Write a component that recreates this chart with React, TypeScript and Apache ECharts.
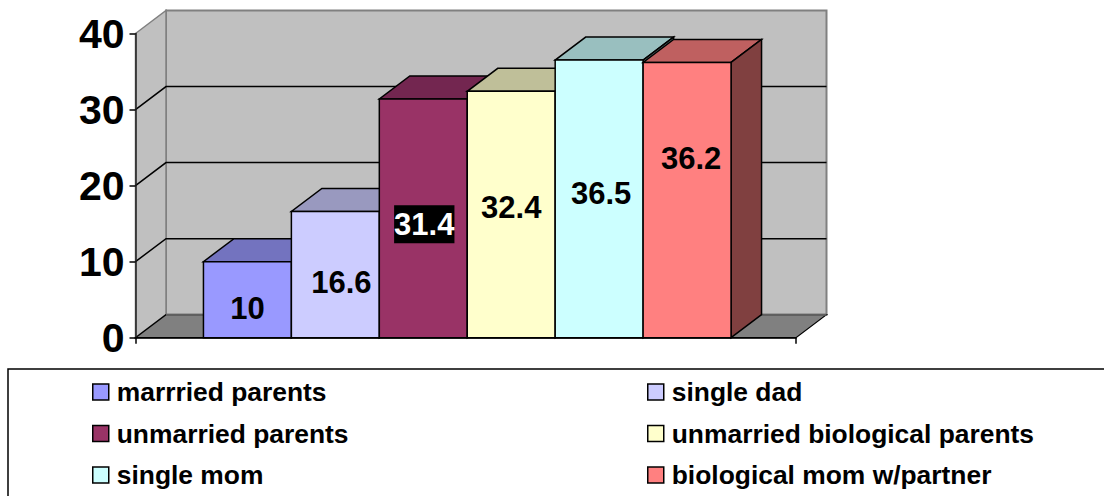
import React, { useEffect, useRef } from "react";
import * as echarts from "echarts";

const categories = [""];
const seriesNames = [
  "marrried parents",
  "single dad",
  "unmarried parents",
  "unmarried biological parents",
  "single mom",
  "biological mom w/partner",
];
const seriesValues = [10, 16.6, 31.4, 32.4, 36.5, 36.2];
const valueTicks = [0, 10, 20, 30, 40];

const barColors = ["#9999FF", "#CCCCFF", "#993366", "#FFFFCC", "#CCFFFF", "#FF8080"];
const topColors = ["#7373BF", "#9999BF", "#732650", "#BFBF99", "#99BFBF", "#BF6060"];
const sideColors = ["#4D4D80", "#666680", "#4D1A33", "#808066", "#668080", "#804040"];
const labelShiftY = [9, 7.5, 6, -7, -5.5, -42];
const labelShiftX = [1, 7, 2, 1, 3, 5];

const DX = 30.5;
const DY = -23;
const GAP_FRAC = 68 / 661;
const BAR_FRAC = 88 / 661;
const FONT = '"Liberation Sans", Arial, sans-serif';

function poly(points: number[][], fill: string, stroke: string, lineWidth: number) {
  return { type: "polygon", shape: { points }, style: { fill, stroke, lineWidth } };
}

function renderWalls(_p: any, api: any) {
  const base = api.coord([0, 0]);
  const band = api.size([1, 0])[0];
  const left = base[0] - band / 2;
  const right = left + band;
  const y0 = base[1];
  const yTop = api.coord([0, valueTicks[valueTicks.length - 1]])[1];
  const grey = "#808080";
  const children: any[] = [
    poly([[left + DX, y0 + DY], [right + DX, y0 + DY], [right + DX, yTop + DY], [left + DX, yTop + DY]], "#C0C0C0", grey, 2),
    poly([[left, y0], [left + DX, y0 + DY], [left + DX, yTop + DY], [left, yTop]], "#C0C0C0", grey, 1.5),
    poly([[left, y0], [right, y0], [right + DX, y0 + DY], [left + DX, y0 + DY]], grey, "#000", 1.2),
  ];
  valueTicks.slice(1, -1).forEach((t) => {
    const y = api.coord([0, t])[1];
    children.push({
      type: "polyline",
      shape: { points: [[left, y], [left + DX, y + DY], [right + DX, y + DY]] },
      style: { fill: "none", stroke: "#000", lineWidth: 1.5 },
    });
  });
  children.push({
    type: "line",
    shape: { x1: left + DX, y1: y0 + DY, x2: right + DX, y2: y0 + DY },
    style: { stroke: "#606060", lineWidth: 2 },
  });
  return { type: "group", children };
}

function renderBar(i: number) {
  return (_p: any, api: any) => {
    const value = api.value(1);
    const base = api.coord([0, 0]);
    const top = api.coord([0, value]);
    const band = api.size([1, 0])[0];
    const x0 = base[0] - band / 2 + band * (GAP_FRAC + BAR_FRAC * i);
    const x1 = x0 + band * BAR_FRAC;
    const y0 = base[1];
    const y1 = top[1];
    const isDark = i === 2;
    return {
      type: "group",
      children: [
        poly([[x0, y1], [x1, y1], [x1 + DX, y1 + DY], [x0 + DX, y1 + DY]], topColors[i], "#000", 1.5),
        poly([[x1, y0], [x1 + DX, y0 + DY], [x1 + DX, y1 + DY], [x1, y1]], sideColors[i], "#000", 1.5),
        poly([[x0, y0], [x1, y0], [x1, y1], [x0, y1]], barColors[i], "#000", 1.5),
        {
          type: "text",
          x: (x0 + x1) / 2 - 1 + labelShiftX[i],
          y: (y0 + y1) / 2 + labelShiftY[i],
          style: {
            text: String(value),
            fill: isDark ? "#fff" : "#000",
            font: `bold 31px ${FONT}`,
            align: "center",
            verticalAlign: "middle",
            backgroundColor: isDark ? "#000" : "transparent",
            padding: isDark ? [5, 0, 2, 0] : 0,
          },
        },
      ],
    };
  };
}

export default function App() {
  const ref = useRef<HTMLDivElement>(null);
  useEffect(() => {
    const chart = echarts.init(ref.current!, undefined, { renderer: "svg" });
    const legendBase = {
      orient: "vertical",
      icon: "rect",
      itemWidth: 16,
      itemHeight: 16,
      itemGap: 15.5,
      height: 130,
      selectedMode: false,
      itemStyle: { borderColor: "#000", borderWidth: 1.5 },
      textStyle: { fontFamily: FONT, fontWeight: "bold", fontSize: 26.4, color: "#000", padding: [0, 0, 0, 3] },
    };
    chart.setOption({
      animation: false,
      backgroundColor: "#fff",
      grid: { left: 135.5, right: 1104 - 796, top: 33.5, bottom: 496 - 337.7 },
      xAxis: {
        type: "category",
        data: categories,
        z: 5,
        axisLine: { lineStyle: { color: "#000", width: 1.5 } },
        axisTick: { show: true, length: 6, lineStyle: { color: "#000", width: 1.5 } },
        axisLabel: { show: false },
      },
      yAxis: {
        type: "value",
        min: 0,
        max: 40,
        interval: 10,
        z: 5,
        splitLine: { show: false },
        axisLine: { show: true, lineStyle: { color: "#202020", width: 1.5 } },
        axisTick: { show: true, length: 6, lineStyle: { color: "#000", width: 1.5 } },
        axisLabel: { fontFamily: FONT, fontWeight: "bold", fontSize: 41, color: "#000", margin: 11 },
      },
      legend: [
        { ...legendBase, left: 87, top: 374, data: [seriesNames[0], seriesNames[2], seriesNames[4]] },
        { ...legendBase, left: 642, top: 374, data: [seriesNames[1], seriesNames[3], seriesNames[5]] },
      ],
      graphic: [
        {
          type: "rect",
          silent: true,
          shape: { x: 8, y: 369, width: 1300, height: 300 },
          style: { fill: "none", stroke: "#000", lineWidth: 1.5 },
        },
      ],
      series: [
        { type: "custom", name: "walls", data: [[0, 0]], renderItem: renderWalls, silent: true, z: 1 },
        ...seriesNames.map((name, i) => ({
          type: "custom",
          name,
          data: [[0, seriesValues[i]]],
          encode: { x: 0, y: 1 },
          itemStyle: { color: barColors[i] },
          renderItem: renderBar(i),
          z: 2,
        })),
      ],
    });
    return () => chart.dispose();
  }, []);
  return <div ref={ref} style={{ position: "fixed", left: 0, top: 0, width: 1104, height: 496 }} />;
}
